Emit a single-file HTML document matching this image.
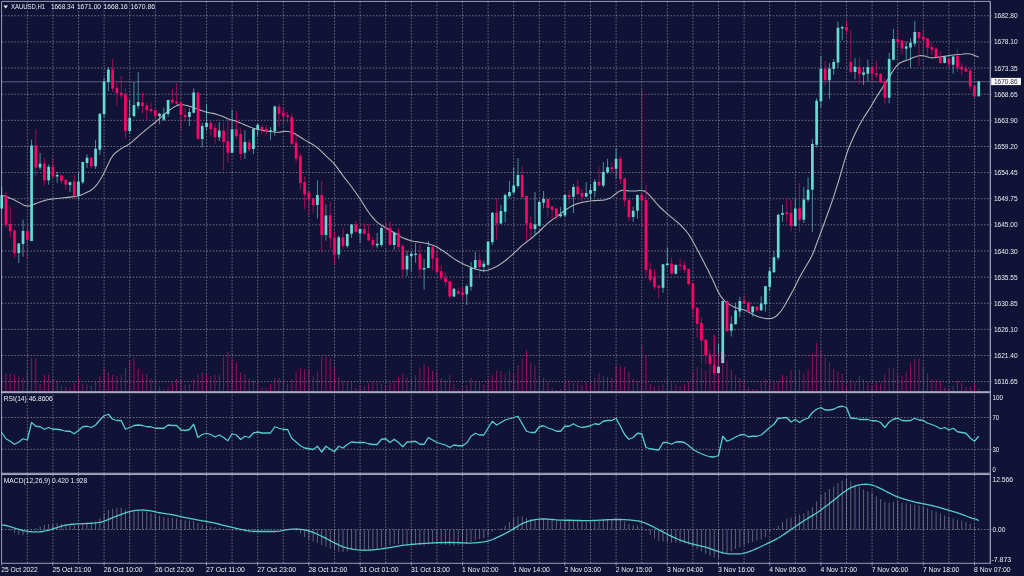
<!DOCTYPE html>
<html lang="en"><head><meta charset="utf-8"><title>XAUUSD,H1</title>
<style>html,body{margin:0;padding:0;background:#101236;overflow:hidden}body{width:1024px;height:576px}</style>
</head><body>
<svg width="1024" height="576" viewBox="0 0 1024 576" style="display:block;font-family:'Liberation Sans',sans-serif">
<rect width="1024" height="576" fill="#101236"/>
<path d="M27.30 1.4V563.3M52.90 1.4V563.3M78.50 1.4V563.3M104.10 1.4V563.3M129.70 1.4V563.3M155.30 1.4V563.3M180.90 1.4V563.3M206.50 1.4V563.3M232.10 1.4V563.3M257.70 1.4V563.3M283.30 1.4V563.3M308.90 1.4V563.3M334.50 1.4V563.3M360.10 1.4V563.3M385.70 1.4V563.3M411.30 1.4V563.3M436.90 1.4V563.3M462.50 1.4V563.3M488.10 1.4V563.3M513.70 1.4V563.3M539.30 1.4V563.3M564.90 1.4V563.3M590.50 1.4V563.3M616.10 1.4V563.3M641.70 1.4V563.3M667.30 1.4V563.3M692.90 1.4V563.3M718.50 1.4V563.3M744.10 1.4V563.3M769.70 1.4V563.3M795.30 1.4V563.3M820.90 1.4V563.3M846.50 1.4V563.3M872.10 1.4V563.3M897.70 1.4V563.3M923.30 1.4V563.3M948.90 1.4V563.3M974.50 1.4V563.3M1.6 15.80H991.6M1.6 41.93H991.6M1.6 68.06H991.6M1.6 94.19H991.6M1.6 120.32H991.6M1.6 146.45H991.6M1.6 172.58H991.6M1.6 198.71H991.6M1.6 224.84H991.6M1.6 250.97H991.6M1.6 277.10H991.6M1.6 303.23H991.6M1.6 329.36H991.6M1.6 355.49H991.6M1.6 381.62H991.6M1.6 417.5H991.6M1.6 449.3H991.6M1.6 529.5H991.6" stroke="#a9a9b4" stroke-width="0.66" stroke-dasharray="1.6 1.6" fill="none" opacity="0.9"/>
<path d="M1.70 377.50V391.2M5.97 373.25V391.2M10.23 373.75V391.2M14.50 374.25V391.2M18.77 376.25V391.2M23.03 377.50V391.2M27.30 370.00V391.2M31.57 358.00V391.2M35.83 358.00V391.2M40.10 383.75V391.2M44.37 375.00V391.2M48.63 374.25V391.2M52.90 379.50V391.2M57.17 380.50V391.2M61.43 385.50V391.2M65.70 386.75V391.2M69.97 387.50V391.2M74.23 382.50V391.2M78.50 378.00V391.2M82.77 383.75V391.2M87.03 384.25V391.2M91.30 385.75V391.2M95.57 381.25V391.2M99.83 376.25V391.2M104.10 368.75V391.2M108.37 371.75V391.2M112.63 375.00V391.2M116.90 376.25V391.2M121.17 375.00V391.2M125.43 368.00V391.2M129.70 360.50V391.2M133.97 357.50V391.2M138.23 368.75V391.2M142.50 373.75V391.2M146.77 374.25V391.2M151.03 378.75V391.2M155.30 381.25V391.2M159.57 386.25V391.2M163.83 389.25V391.2M168.10 387.50V391.2M172.37 381.25V391.2M176.63 378.75V391.2M180.90 380.00V391.2M185.17 384.50V391.2M189.43 383.75V391.2M193.70 378.75V391.2M197.97 374.25V391.2M202.23 372.00V391.2M206.50 373.75V391.2M210.77 376.25V391.2M215.03 375.00V391.2M219.30 374.50V391.2M223.57 357.00V391.2M227.83 352.00V391.2M232.10 358.75V391.2M236.37 363.00V391.2M240.63 372.50V391.2M244.90 374.25V391.2M249.17 378.75V391.2M253.43 380.00V391.2M257.70 382.00V391.2M261.97 387.50V391.2M266.23 388.00V391.2M270.50 383.75V391.2M274.77 378.00V391.2M279.03 378.00V391.2M283.30 382.00V391.2M287.57 383.75V391.2M291.83 379.25V391.2M296.10 372.00V391.2M300.37 368.25V391.2M304.63 369.50V391.2M308.90 369.25V391.2M313.17 375.75V391.2M317.43 371.25V391.2M321.70 356.75V391.2M325.97 357.00V391.2M330.23 358.00V391.2M334.50 368.25V391.2M338.77 377.00V391.2M343.03 381.25V391.2M347.30 381.25V391.2M351.57 381.25V391.2M355.83 388.00V391.2M360.10 385.00V391.2M364.37 386.75V391.2M368.63 383.00V391.2M372.90 381.25V391.2M377.17 382.50V391.2M381.43 383.75V391.2M385.70 385.00V391.2M389.97 382.50V391.2M394.23 381.25V391.2M398.50 377.50V391.2M402.77 373.00V391.2M407.03 377.00V391.2M411.30 378.00V391.2M415.57 375.00V391.2M419.83 367.50V391.2M424.10 363.75V391.2M428.37 366.25V391.2M432.63 370.50V391.2M436.90 371.75V391.2M441.17 378.00V391.2M445.43 379.50V391.2M449.70 375.00V391.2M453.97 384.25V391.2M458.23 388.75V391.2M462.50 387.50V391.2M466.77 385.00V391.2M471.03 378.00V391.2M475.30 381.25V391.2M479.57 381.25V391.2M483.83 384.25V391.2M488.10 380.00V391.2M492.37 374.50V391.2M496.63 370.75V391.2M500.90 370.75V391.2M505.17 374.50V391.2M509.43 370.75V391.2M513.70 372.50V391.2M517.97 365.00V391.2M522.23 358.75V391.2M526.50 350.00V391.2M530.77 362.50V391.2M535.03 365.00V391.2M539.30 375.75V391.2M543.57 378.00V391.2M547.83 381.25V391.2M552.10 388.00V391.2M556.37 390.00V391.2M560.63 389.25V391.2M564.90 382.00V391.2M569.17 380.00V391.2M573.43 383.00V391.2M577.70 382.50V391.2M581.97 385.00V391.2M586.23 382.00V391.2M590.50 382.50V391.2M594.77 378.00V391.2M599.03 373.00V391.2M603.30 375.75V391.2M607.57 377.00V391.2M611.83 377.50V391.2M616.10 365.75V391.2M620.37 366.25V391.2M624.63 367.00V391.2M628.90 372.00V391.2M633.17 378.75V391.2M637.43 381.25V391.2M641.70 345.50V391.2M645.97 355.50V391.2M650.23 384.25V391.2M654.50 387.00V391.2M658.77 385.75V391.2M663.03 384.50V391.2M667.30 377.50V391.2M671.57 383.00V391.2M675.83 384.50V391.2M680.10 386.25V391.2M684.37 384.50V391.2M688.63 381.25V391.2M692.90 372.00V391.2M697.17 367.00V391.2M701.43 367.50V391.2M705.70 370.50V391.2M709.97 365.00V391.2M714.23 334.50V391.2M718.50 354.00V391.2M722.77 351.75V391.2M727.03 360.50V391.2M731.30 369.75V391.2M735.57 375.25V391.2M739.83 378.00V391.2M744.10 380.75V391.2M748.37 386.75V391.2M752.63 389.00V391.2M756.90 389.25V391.2M761.17 383.00V391.2M765.43 379.00V391.2M769.70 382.00V391.2M773.97 382.50V391.2M778.23 381.25V391.2M782.50 375.00V391.2M786.77 376.25V391.2M791.03 370.50V391.2M795.30 370.50V391.2M799.57 369.50V391.2M803.83 373.25V391.2M808.10 369.25V391.2M812.37 353.75V391.2M816.63 342.50V391.2M820.90 350.00V391.2M825.17 357.50V391.2M829.43 362.00V391.2M833.70 368.75V391.2M837.97 371.75V391.2M842.23 373.75V391.2M846.50 385.75V391.2M850.77 380.00V391.2M855.03 382.00V391.2M859.30 375.75V391.2M863.57 379.50V391.2M867.83 381.75V391.2M872.10 385.00V391.2M876.37 381.25V391.2M880.63 383.00V391.2M884.90 374.50V391.2M889.17 368.25V391.2M893.43 367.50V391.2M897.70 374.50V391.2M901.97 375.75V391.2M906.23 372.50V391.2M910.50 363.00V391.2M914.77 358.75V391.2M919.03 358.25V391.2M923.30 367.00V391.2M927.57 373.25V391.2M931.83 378.75V391.2M936.10 379.25V391.2M940.37 380.00V391.2M944.63 387.50V391.2M948.90 388.00V391.2M953.17 385.75V391.2M957.43 380.75V391.2M961.70 383.00V391.2M965.97 387.00V391.2M970.23 386.25V391.2M974.50 383.75V391.2M978.77 388.25V391.2" stroke="#c6146b" stroke-width="0.7" fill="none"/>
<path d="M1.6 81.8H990.4" stroke="#7e809e" stroke-width="0.7" fill="none"/>
<polyline points="1.70,195.46 3.83,195.77 5.97,196.40 8.10,197.19 10.23,198.14 12.37,199.10 14.50,200.12 16.63,201.22 18.77,202.39 20.90,203.55 23.03,204.63 25.17,205.64 27.30,206.04 29.43,205.90 31.57,205.18 33.70,204.39 35.83,203.56 37.97,202.73 40.10,201.97 42.23,201.27 44.37,200.65 46.50,200.02 48.63,199.53 50.77,199.17 52.90,198.95 55.03,198.73 57.17,198.50 59.30,198.28 61.43,198.05 63.57,197.82 65.70,197.58 67.83,197.34 69.97,197.10 72.10,196.85 74.23,196.57 76.37,196.26 78.50,195.78 80.63,195.15 82.77,194.29 84.90,193.34 87.03,192.31 89.17,191.28 91.30,189.97 93.43,188.39 95.57,186.15 97.70,183.54 99.83,180.30 101.97,176.81 104.10,172.74 106.23,168.29 108.37,163.70 110.50,159.30 112.63,155.95 114.76,153.44 116.90,151.78 119.03,150.14 121.16,148.67 123.30,147.37 125.43,146.25 127.56,145.14 129.70,143.76 131.83,142.12 133.96,140.20 136.10,138.27 138.23,136.35 140.36,134.43 142.50,132.58 144.63,130.80 146.76,129.10 148.90,127.39 151.03,125.69 153.16,123.99 155.30,122.23 157.43,120.42 159.56,118.56 161.70,116.69 163.83,114.82 165.96,112.96 168.10,111.22 170.23,109.63 172.36,108.17 174.50,106.73 176.63,105.63 178.76,104.86 180.90,104.69 183.03,104.80 185.16,105.19 187.30,105.60 189.43,106.16 191.56,106.86 193.70,107.70 195.83,108.54 197.96,109.35 200.10,110.11 202.23,110.84 204.36,111.55 206.50,112.15 208.63,112.64 210.76,113.01 212.90,113.38 215.03,113.87 217.16,114.48 219.30,115.19 221.43,115.91 223.56,116.75 225.70,117.72 227.83,118.65 229.96,119.42 232.10,120.02 234.23,120.63 236.36,121.35 238.50,122.18 240.63,123.12 242.76,124.06 244.90,124.97 247.03,125.84 249.16,126.69 251.30,127.53 253.43,128.25 255.56,128.85 257.70,129.32 259.83,129.79 261.96,130.21 264.10,130.59 266.23,130.92 268.36,131.25 270.50,131.55 272.63,131.82 274.76,132.05 276.90,132.27 279.03,132.20 281.16,131.85 283.30,131.47 285.43,131.38 287.56,131.55 289.70,131.74 291.83,132.29 293.96,133.20 296.10,134.50 298.23,135.83 300.36,137.21 302.50,138.58 304.63,139.90 306.76,141.15 308.90,142.35 311.03,143.54 313.16,144.80 315.30,146.13 317.43,147.76 319.56,149.61 321.69,151.70 323.83,153.78 325.96,155.83 328.09,157.85 330.23,159.83 332.36,161.81 334.49,164.14 336.63,166.82 338.76,169.85 340.89,172.87 343.03,175.79 345.16,178.59 347.29,181.28 349.43,183.97 351.56,186.77 353.69,189.70 355.83,192.75 357.96,195.80 360.09,198.97 362.23,202.27 364.36,205.69 366.49,209.11 368.63,212.23 370.76,215.04 372.89,217.55 375.03,220.05 377.16,222.15 379.29,223.84 381.43,225.14 383.56,226.44 385.69,227.73 387.83,229.00 389.96,230.25 392.09,231.50 394.23,232.77 396.36,234.04 398.49,235.33 400.63,236.62 402.76,237.72 404.89,238.64 407.03,239.38 409.16,240.12 411.29,240.73 413.43,241.21 415.56,241.54 417.69,241.87 419.83,242.22 421.96,242.58 424.09,242.95 426.23,243.32 428.36,243.83 430.49,244.49 432.63,245.29 434.76,246.09 436.89,247.09 439.03,248.29 441.16,249.67 443.29,251.06 445.43,252.51 447.56,254.02 449.69,255.59 451.83,257.17 453.96,258.63 456.09,259.97 458.23,261.21 460.36,262.45 462.49,263.60 464.63,264.65 466.76,265.61 468.89,266.56 471.03,267.42 473.16,268.20 475.29,268.90 477.43,269.59 479.56,270.16 481.69,270.59 483.83,270.69 485.96,270.58 488.09,270.07 490.23,269.35 492.36,268.45 494.49,267.54 496.63,266.46 498.76,265.20 500.89,263.76 503.03,262.30 505.16,260.72 507.29,259.00 509.43,257.15 511.56,255.30 513.69,253.38 515.83,251.38 517.96,249.31 520.09,247.24 522.23,245.32 524.36,243.57 526.49,241.98 528.63,240.41 530.76,238.73 532.89,236.97 535.03,235.10 537.16,233.23 539.29,231.28 541.42,229.26 543.56,227.17 545.69,225.07 547.82,223.17 549.96,221.45 552.09,219.92 554.22,218.39 556.36,216.82 558.49,215.22 560.62,213.58 562.76,211.94 564.89,210.41 567.02,208.98 569.16,207.65 571.29,206.32 573.42,205.21 575.56,204.31 577.69,203.63 579.82,202.95 581.96,202.38 584.09,201.92 586.22,201.59 588.36,201.25 590.49,200.98 592.62,200.78 594.76,200.65 596.89,200.53 599.02,200.40 601.16,200.27 603.29,200.14 605.42,199.76 607.56,199.09 609.69,198.15 611.82,196.88 613.96,195.29 616.09,193.54 618.22,191.91 620.36,190.86 622.49,190.31 624.62,190.38 626.76,190.63 628.89,190.87 631.02,191.00 633.16,191.00 635.29,191.00 637.42,190.83 639.56,190.51 641.69,190.45 643.82,190.84 645.96,192.08 648.09,193.76 650.22,196.02 652.36,198.42 654.49,200.97 656.62,203.51 658.76,205.86 660.89,208.01 663.02,209.98 665.16,211.94 667.29,213.84 669.42,215.67 671.56,217.43 673.69,219.19 675.82,220.95 677.96,222.72 680.09,224.68 682.22,226.82 684.36,229.14 686.49,231.46 688.62,234.28 690.76,237.60 692.89,241.41 695.02,245.23 697.16,249.15 699.29,253.18 701.42,257.32 703.56,261.45 705.69,265.63 707.82,269.87 709.96,274.16 712.09,278.47 714.22,283.09 716.36,287.98 718.49,292.40 720.62,296.06 722.76,298.71 724.89,301.06 727.02,302.85 729.16,304.37 731.29,305.55 733.42,306.63 735.56,307.48 737.69,308.18 739.82,308.72 741.96,309.23 744.09,309.90 746.22,310.79 748.36,311.94 750.49,313.14 752.62,314.29 754.75,315.33 756.89,316.16 759.02,316.92 761.15,317.51 763.29,318.04 765.42,318.37 767.55,318.59 769.69,318.56 771.82,318.38 773.95,317.56 776.09,316.24 778.22,314.23 780.35,311.99 782.49,309.03 784.62,305.53 786.75,301.64 788.89,297.89 791.02,294.14 793.15,290.27 795.29,286.09 797.42,281.74 799.55,277.52 801.69,273.59 803.82,269.94 805.95,266.30 808.09,262.71 810.22,259.04 812.35,254.67 814.49,249.55 816.62,243.80 818.75,238.05 820.89,232.28 823.02,226.47 825.15,220.64 827.29,214.80 829.42,208.96 831.55,202.90 833.69,196.60 835.82,189.92 837.95,183.06 840.09,175.99 842.22,168.68 844.35,161.18 846.49,154.31 848.62,148.28 850.75,143.23 852.89,138.41 855.02,133.79 857.15,129.43 859.29,125.31 861.42,121.50 863.55,117.93 865.69,114.60 867.82,111.38 869.95,108.02 872.09,104.51 874.22,100.85 876.35,97.30 878.49,93.89 880.62,90.62 882.75,87.40 884.89,84.10 887.02,80.71 889.15,77.19 891.29,73.61 893.42,70.26 895.55,67.20 897.69,64.88 899.82,63.02 901.95,61.92 904.09,61.12 906.22,60.48 908.35,59.71 910.49,58.79 912.62,57.85 914.75,57.00 916.89,56.25 919.02,55.82 921.15,55.60 923.29,55.81 925.42,56.25 927.55,56.91 929.69,57.56 931.82,57.85 933.95,57.80 936.09,57.45 938.22,57.15 940.35,56.89 942.49,56.60 944.62,56.28 946.75,55.95 948.89,55.62 951.02,55.30 953.15,55.04 955.29,54.81 957.42,54.64 959.55,54.50 961.69,54.31 963.82,54.05 965.95,53.82 968.08,53.70 970.22,53.97 972.35,54.53 974.48,55.40 976.62,56.34 978.75,57.00" fill="none" stroke="#b2b2b6" stroke-width="1.1" stroke-linejoin="round"/>
<path d="M1.70 186.90V209.40M18.77 243.00V262.80M23.03 219.70V256.80M31.57 139.60V241.30M40.10 153.00V170.00M48.63 164.40V184.60M57.17 171.90V183.00M69.97 181.60V192.00M78.50 172.80V199.60M82.77 161.60V184.00M87.03 154.40V168.00M95.57 140.00V169.00M99.83 113.20V155.00M104.10 78.00V117.50M108.37 67.00V91.00M129.70 100.00V133.40M133.97 82.00V117.50M138.23 72.00V109.00M159.57 112.80V124.40M163.83 107.75V121.00M168.10 99.70V117.00M189.43 107.90V126.00M193.70 88.40V113.40M202.23 122.75V147.50M206.50 104.00V130.25M219.30 122.20V141.00M232.10 110.00V153.10M244.90 130.25V158.75M253.43 128.40V154.00M257.70 123.00V136.25M270.50 126.90V140.00M274.77 105.30V135.70M317.43 180.40V218.40M325.97 204.40V240.60M338.77 235.30V258.75M347.30 233.40V248.40M351.57 224.00V237.75M360.10 228.40V242.80M377.17 232.80V248.40M381.43 226.25V246.90M394.23 231.90V249.70M407.03 250.60V276.00M411.30 251.60V271.25M415.57 243.10V262.80M424.10 259.00V289.60M428.37 240.90V268.40M453.97 288.10V297.10M466.77 284.40V305.00M471.03 261.90V290.60M475.30 251.90V270.30M483.83 260.40V272.20M488.10 241.25V266.00M492.37 212.20V245.00M500.90 204.70V224.00M505.17 193.40V222.50M509.43 180.90V198.10M513.70 167.20V193.40M517.97 158.20V187.80M535.03 192.10V235.40M539.30 200.90V226.25M543.57 191.00V208.40M560.63 207.10V217.80M564.90 194.40V216.90M573.43 184.00V213.10M586.23 182.20V197.20M590.50 184.00V200.00M594.77 179.00V197.20M603.30 162.10V187.25M607.57 158.75V173.75M616.10 147.90V178.40M633.17 206.60V221.80M637.43 194.40V218.75M663.03 263.75V292.80M667.30 247.25V265.60M675.83 264.30V274.40M718.50 343.30V373.40M722.77 300.40V363.40M731.30 316.25V336.50M735.57 303.00V324.70M739.83 296.60V317.20M752.63 305.90V316.60M761.17 296.10V311.00M765.43 285.70V311.60M769.70 267.10V291.00M773.97 251.00V272.75M778.23 213.90V260.40M782.50 204.70V221.80M795.30 198.60V226.25M803.83 186.90V223.00M808.10 177.50V201.90M812.37 139.00V232.30M816.63 98.20V147.50M820.90 55.90V107.60M829.43 63.00V99.00M833.70 59.00V74.70M837.97 21.60V68.10M842.23 25.60V40.40M855.03 57.80V79.40M863.57 67.20V85.00M867.83 59.70V81.25M889.17 52.75V103.40M893.43 28.75V60.60M906.23 41.90V60.60M910.50 38.10V67.75M914.77 20.90V46.60M944.63 55.90V63.40M953.17 55.60V73.75M978.77 80.90V96.60" stroke="#64dcd4" stroke-width="0.62" fill="none"/>
<path d="M5.97 192.00V228.00M10.23 206.50V237.30M14.50 229.00V258.00M27.30 224.50V258.50M35.83 129.00V176.60M44.37 157.80V186.00M52.90 158.20V178.40M61.43 174.70V184.00M65.70 179.40V189.70M74.23 174.70V199.00M91.30 156.30V168.00M112.63 59.00V92.00M116.90 83.00V105.70M121.17 76.00V99.00M125.43 88.00V138.50M142.50 92.00V113.75M146.77 102.50V120.00M151.03 102.50V113.75M155.30 109.60V121.80M172.37 89.40V104.40M176.63 82.80V104.40M180.90 102.10V129.70M185.17 108.00V120.60M197.97 92.20V139.60M210.77 121.60V136.25M215.03 124.00V143.75M223.57 122.20V170.60M227.83 120.30V162.50M236.37 111.00V139.00M240.63 128.40V159.70M249.17 139.00V151.80M261.97 125.00V134.75M266.23 125.00V134.40M279.03 103.40V126.90M283.30 107.75V125.00M287.57 111.90V122.75M291.83 113.40V145.25M296.10 134.40V162.50M300.37 154.00V189.75M304.63 176.25V209.60M308.90 190.30V216.60M313.17 197.80V212.80M321.70 181.00V252.20M330.23 201.60V248.40M334.50 231.60V264.40M343.03 227.80V249.00M355.83 220.90V232.90M364.37 223.20V234.40M368.63 224.20V241.25M372.90 236.60V249.10M385.70 222.00V232.00M389.97 221.60V245.60M398.50 228.10V249.70M402.77 244.00V276.90M419.83 244.40V276.90M432.63 246.00V270.30M436.90 250.60V272.75M441.17 264.70V280.60M445.43 272.20V285.90M449.70 280.60V298.40M458.23 287.20V294.70M462.50 287.20V299.40M479.57 253.40V277.25M496.63 198.10V239.70M522.23 165.90V198.10M526.50 195.30V241.25M530.77 216.50V238.40M547.83 198.50V216.90M552.10 206.00V217.80M556.37 207.90V220.25M569.17 190.25V203.75M577.70 180.00V195.30M581.97 189.10V201.00M599.03 166.80V186.50M611.83 162.10V173.40M620.37 155.90V184.00M624.63 177.50V206.60M628.90 199.40V221.00M641.70 88.75V227.20M645.97 185.00V276.90M650.23 262.80V282.50M654.50 269.00V290.00M658.77 285.30V298.40M671.57 257.20V274.40M680.10 258.70V270.30M684.37 261.00V273.10M688.63 268.40V286.25M692.90 283.00V317.20M697.17 307.25V337.80M701.43 317.20V364.00M705.70 339.10V364.60M709.97 350.50V364.90M714.23 334.60V373.40M727.03 300.30V331.80M744.10 294.90V304.00M748.37 301.25V312.50M756.90 305.90V311.60M786.77 198.10V222.70M791.03 200.50V231.00M799.57 183.10V231.90M825.17 61.00V85.90M846.50 20.30V34.40M850.77 29.70V73.75M859.30 57.25V84.00M872.10 66.25V81.25M876.37 60.25V77.90M880.63 72.80V83.10M884.90 78.40V104.60M897.70 29.70V47.50M901.97 40.00V54.60M919.03 31.60V65.90M923.30 29.70V54.00M927.57 37.75V55.90M931.83 42.80V55.00M936.10 47.10V57.25M940.37 51.60V63.40M948.90 57.80V67.20M957.43 49.40V71.90M961.70 62.50V75.25M965.97 64.75V71.90M970.23 68.10V90.25M974.50 85.00V97.20" stroke="#ff0566" stroke-width="0.62" fill="none"/>
<path d="M0.35 195.30h2.7V208.40h-2.7zM17.42 243.50h2.7V253.00h-2.7zM21.68 231.00h2.7V244.00h-2.7zM30.22 145.60h2.7V241.00h-2.7zM38.75 163.80h2.7V167.60h-2.7zM47.28 166.80h2.7V180.30h-2.7zM55.82 175.00h2.7V176.60h-2.7zM68.62 182.20h2.7V185.00h-2.7zM77.15 181.60h2.7V195.70h-2.7zM81.42 162.00h2.7V182.20h-2.7zM85.68 157.80h2.7V162.90h-2.7zM94.22 148.80h2.7V166.25h-2.7zM98.48 113.75h2.7V149.75h-2.7zM102.75 81.50h2.7V114.00h-2.7zM107.02 69.50h2.7V82.00h-2.7zM128.35 118.00h2.7V131.00h-2.7zM132.62 105.00h2.7V116.00h-2.7zM136.88 102.00h2.7V106.00h-2.7zM158.22 113.75h2.7V116.20h-2.7zM162.48 113.75h2.7V119.75h-2.7zM166.75 100.00h2.7V114.00h-2.7zM188.08 111.90h2.7V117.00h-2.7zM192.35 92.60h2.7V112.80h-2.7zM200.88 126.00h2.7V139.00h-2.7zM205.15 122.75h2.7V126.90h-2.7zM217.95 130.60h2.7V137.20h-2.7zM230.75 129.30h2.7V152.75h-2.7zM243.55 141.90h2.7V152.75h-2.7zM252.08 129.10h2.7V149.00h-2.7zM256.35 125.00h2.7V129.10h-2.7zM269.15 130.25h2.7V131.25h-2.7zM273.42 106.60h2.7V131.00h-2.7zM316.08 195.00h2.7V205.00h-2.7zM324.62 215.60h2.7V235.00h-2.7zM337.42 237.20h2.7V254.60h-2.7zM345.95 234.00h2.7V246.00h-2.7zM350.22 224.60h2.7V233.80h-2.7zM358.75 229.10h2.7V233.40h-2.7zM375.82 243.70h2.7V245.60h-2.7zM380.08 228.10h2.7V245.00h-2.7zM392.88 232.80h2.7V245.00h-2.7zM405.68 255.70h2.7V269.40h-2.7zM409.95 253.80h2.7V256.25h-2.7zM414.22 253.80h2.7V255.00h-2.7zM422.75 267.90h2.7V269.40h-2.7zM427.02 246.90h2.7V267.90h-2.7zM452.62 288.70h2.7V296.60h-2.7zM465.42 286.25h2.7V294.30h-2.7zM469.68 267.50h2.7V286.80h-2.7zM473.95 260.00h2.7V267.90h-2.7zM482.48 263.75h2.7V267.10h-2.7zM486.75 241.60h2.7V264.70h-2.7zM491.02 212.70h2.7V242.20h-2.7zM499.55 210.90h2.7V223.40h-2.7zM503.82 194.90h2.7V211.80h-2.7zM508.08 191.90h2.7V196.25h-2.7zM512.35 185.40h2.7V192.50h-2.7zM516.62 175.00h2.7V185.90h-2.7zM533.68 224.60h2.7V229.00h-2.7zM537.95 201.90h2.7V225.70h-2.7zM542.22 198.70h2.7V202.80h-2.7zM559.28 214.60h2.7V216.30h-2.7zM563.55 194.90h2.7V215.60h-2.7zM572.08 186.90h2.7V196.80h-2.7zM584.88 193.00h2.7V196.80h-2.7zM589.15 190.00h2.7V193.80h-2.7zM593.42 181.80h2.7V191.00h-2.7zM601.95 171.90h2.7V185.60h-2.7zM606.22 167.20h2.7V172.40h-2.7zM614.75 158.75h2.7V168.70h-2.7zM631.82 210.70h2.7V217.00h-2.7zM636.08 194.90h2.7V210.70h-2.7zM661.68 264.30h2.7V287.75h-2.7zM665.95 263.40h2.7V265.25h-2.7zM674.48 265.00h2.7V273.70h-2.7zM717.15 366.80h2.7V372.90h-2.7zM721.42 300.90h2.7V363.00h-2.7zM729.95 323.75h2.7V330.70h-2.7zM734.22 310.60h2.7V324.30h-2.7zM738.48 300.90h2.7V311.60h-2.7zM751.28 306.50h2.7V312.50h-2.7zM759.82 303.60h2.7V310.25h-2.7zM764.08 286.25h2.7V304.20h-2.7zM768.35 271.25h2.7V286.80h-2.7zM772.62 257.20h2.7V272.20h-2.7zM776.88 214.80h2.7V257.75h-2.7zM781.15 212.90h2.7V214.80h-2.7zM793.95 208.50h2.7V226.00h-2.7zM802.48 199.50h2.7V219.80h-2.7zM806.75 189.70h2.7V199.80h-2.7zM811.02 144.10h2.7V189.80h-2.7zM815.28 100.70h2.7V144.70h-2.7zM819.55 68.70h2.7V101.30h-2.7zM828.08 68.70h2.7V80.30h-2.7zM832.35 61.90h2.7V69.00h-2.7zM836.62 27.80h2.7V62.50h-2.7zM840.88 26.90h2.7V28.40h-2.7zM853.68 66.80h2.7V71.90h-2.7zM862.22 72.40h2.7V74.70h-2.7zM866.48 67.20h2.7V73.75h-2.7zM887.82 59.10h2.7V97.75h-2.7zM892.08 39.00h2.7V59.70h-2.7zM904.88 46.60h2.7V48.80h-2.7zM909.15 42.80h2.7V47.50h-2.7zM913.42 32.10h2.7V43.40h-2.7zM943.28 56.50h2.7V63.00h-2.7zM951.82 56.50h2.7V64.75h-2.7zM977.42 81.25h2.7V96.25h-2.7z" fill="#64dcd4"/>
<path d="M4.62 195.90h2.7V224.75h-2.7zM8.88 224.00h2.7V231.20h-2.7zM13.15 230.40h2.7V253.00h-2.7zM25.95 231.00h2.7V240.00h-2.7zM34.48 145.60h2.7V167.60h-2.7zM43.02 163.40h2.7V180.30h-2.7zM51.55 166.80h2.7V176.60h-2.7zM60.08 175.25h2.7V180.90h-2.7zM64.35 179.75h2.7V184.60h-2.7zM72.88 181.60h2.7V195.70h-2.7zM89.95 157.80h2.7V166.25h-2.7zM111.28 69.50h2.7V88.40h-2.7zM115.55 88.00h2.7V93.00h-2.7zM119.82 92.75h2.7V95.50h-2.7zM124.08 94.60h2.7V131.00h-2.7zM141.15 102.50h2.7V106.00h-2.7zM145.42 105.50h2.7V110.00h-2.7zM149.68 109.00h2.7V111.00h-2.7zM153.95 110.00h2.7V116.00h-2.7zM171.02 99.70h2.7V102.50h-2.7zM175.28 101.75h2.7V103.40h-2.7zM179.55 102.50h2.7V115.00h-2.7zM183.82 114.70h2.7V117.00h-2.7zM196.62 92.60h2.7V139.00h-2.7zM209.42 122.75h2.7V129.00h-2.7zM213.68 127.80h2.7V137.20h-2.7zM222.22 130.60h2.7V141.90h-2.7zM226.48 141.00h2.7V152.75h-2.7zM235.02 129.30h2.7V135.90h-2.7zM239.28 134.00h2.7V153.70h-2.7zM247.82 142.25h2.7V149.40h-2.7zM260.62 126.90h2.7V129.70h-2.7zM264.88 129.10h2.7V131.20h-2.7zM277.68 106.60h2.7V113.75h-2.7zM281.95 112.80h2.7V116.20h-2.7zM286.22 115.25h2.7V117.10h-2.7zM290.48 117.00h2.7V143.75h-2.7zM294.75 142.80h2.7V158.75h-2.7zM299.02 156.00h2.7V182.90h-2.7zM303.28 181.90h2.7V194.40h-2.7zM307.55 192.60h2.7V199.30h-2.7zM311.82 198.40h2.7V205.00h-2.7zM320.35 195.00h2.7V235.00h-2.7zM328.88 215.25h2.7V238.10h-2.7zM333.15 237.75h2.7V254.60h-2.7zM341.68 237.20h2.7V246.00h-2.7zM354.48 224.60h2.7V232.10h-2.7zM363.02 228.90h2.7V233.80h-2.7zM367.28 233.60h2.7V240.30h-2.7zM371.55 240.00h2.7V245.00h-2.7zM384.35 227.60h2.7V228.60h-2.7zM388.62 228.10h2.7V245.00h-2.7zM397.15 232.80h2.7V246.90h-2.7zM401.42 246.00h2.7V269.40h-2.7zM418.48 253.80h2.7V269.40h-2.7zM431.28 246.90h2.7V258.50h-2.7zM435.55 257.75h2.7V272.20h-2.7zM439.82 271.25h2.7V278.20h-2.7zM444.08 277.80h2.7V282.10h-2.7zM448.35 281.20h2.7V296.60h-2.7zM456.88 291.30h2.7V293.75h-2.7zM461.15 292.40h2.7V295.00h-2.7zM478.22 260.00h2.7V267.10h-2.7zM495.28 212.70h2.7V223.40h-2.7zM520.88 175.00h2.7V197.20h-2.7zM525.15 195.90h2.7V223.40h-2.7zM529.42 222.90h2.7V229.00h-2.7zM546.48 199.00h2.7V207.90h-2.7zM550.75 206.60h2.7V209.75h-2.7zM555.02 208.40h2.7V216.30h-2.7zM567.82 194.90h2.7V197.20h-2.7zM576.35 186.50h2.7V194.00h-2.7zM580.62 193.00h2.7V196.80h-2.7zM597.68 181.80h2.7V185.60h-2.7zM610.48 167.20h2.7V169.00h-2.7zM619.02 158.75h2.7V179.00h-2.7zM623.28 178.40h2.7V200.40h-2.7zM627.55 200.00h2.7V217.00h-2.7zM640.35 194.90h2.7V200.60h-2.7zM644.62 200.00h2.7V270.00h-2.7zM648.88 269.40h2.7V279.70h-2.7zM653.15 276.50h2.7V286.80h-2.7zM657.42 285.70h2.7V287.75h-2.7zM670.22 263.40h2.7V273.70h-2.7zM678.75 264.70h2.7V266.00h-2.7zM683.02 265.00h2.7V269.75h-2.7zM687.28 269.00h2.7V284.00h-2.7zM691.55 283.60h2.7V308.40h-2.7zM695.82 307.80h2.7V323.75h-2.7zM700.08 322.80h2.7V340.60h-2.7zM704.35 339.70h2.7V355.00h-2.7zM708.62 354.50h2.7V364.00h-2.7zM712.88 364.80h2.7V372.90h-2.7zM725.68 300.90h2.7V331.25h-2.7zM742.75 301.10h2.7V303.50h-2.7zM747.02 302.20h2.7V311.90h-2.7zM755.55 306.50h2.7V310.60h-2.7zM785.42 212.20h2.7V213.90h-2.7zM789.68 212.80h2.7V226.00h-2.7zM798.22 208.50h2.7V219.80h-2.7zM823.82 68.70h2.7V80.30h-2.7zM845.15 26.90h2.7V30.25h-2.7zM849.42 62.10h2.7V71.90h-2.7zM857.95 66.80h2.7V74.10h-2.7zM870.75 67.20h2.7V73.75h-2.7zM875.02 73.20h2.7V75.00h-2.7zM879.28 74.10h2.7V82.20h-2.7zM883.55 81.25h2.7V97.75h-2.7zM896.35 39.00h2.7V41.90h-2.7zM900.62 40.40h2.7V48.40h-2.7zM917.68 32.10h2.7V38.10h-2.7zM921.95 36.80h2.7V39.60h-2.7zM926.22 38.50h2.7V47.50h-2.7zM930.48 46.90h2.7V49.75h-2.7zM934.75 48.80h2.7V56.90h-2.7zM939.02 56.50h2.7V63.00h-2.7zM947.55 58.40h2.7V64.40h-2.7zM956.08 55.90h2.7V67.75h-2.7zM960.35 66.80h2.7V69.40h-2.7zM964.62 68.70h2.7V71.50h-2.7zM968.88 70.60h2.7V86.50h-2.7zM973.15 85.60h2.7V96.60h-2.7z" fill="#ff0566"/>
<rect x="717.15" y="366.8" width="2.7" height="6.1" fill="#aeb4cc"/>
<rect x="721.42" y="351.8" width="2.7" height="11.2" fill="#aeb4cc"/>
<path d="M718.50 354V366.8" stroke="#c6146b" stroke-width="0.62"/>
<polyline points="1.70,432.50 5.97,438.75 10.23,441.25 14.50,444.25 18.77,442.00 23.03,438.75 27.30,440.00 31.57,422.50 35.83,426.25 40.10,426.75 44.37,429.25 48.63,427.50 52.90,429.25 57.17,429.25 61.43,430.00 65.70,431.25 69.97,431.25 74.23,433.75 78.50,430.50 82.77,426.75 87.03,426.25 91.30,427.50 95.57,425.00 99.83,420.00 104.10,415.75 108.37,414.25 112.63,419.25 116.90,420.50 121.17,420.50 125.43,429.25 129.70,427.50 133.97,425.50 138.23,425.00 142.50,425.50 146.77,426.75 151.03,426.75 155.30,428.25 159.57,428.25 163.83,428.25 168.10,425.00 172.37,425.50 176.63,425.50 180.90,430.00 185.17,430.50 189.43,429.50 193.70,424.25 197.97,437.50 202.23,434.50 206.50,433.25 210.77,434.50 215.03,437.00 219.30,435.00 223.57,437.50 227.83,440.75 232.10,433.75 236.37,435.00 240.63,439.50 244.90,436.25 249.17,437.50 253.43,433.00 257.70,432.00 261.97,433.00 266.23,433.00 270.50,433.00 274.77,426.75 279.03,428.25 283.30,429.50 287.57,429.50 291.83,438.25 296.10,442.00 300.37,445.75 304.63,448.00 308.90,448.75 313.17,449.50 317.43,446.25 321.70,452.00 325.97,446.25 330.23,449.25 334.50,451.75 338.77,446.25 343.03,448.00 347.30,444.50 351.57,442.00 355.83,442.50 360.10,442.50 364.37,442.50 368.63,443.75 372.90,444.50 377.17,444.50 381.43,439.25 385.70,438.75 389.97,442.50 394.23,439.25 398.50,442.50 402.77,446.75 407.03,442.00 411.30,441.75 415.57,441.25 419.83,444.25 424.10,444.25 428.37,437.50 432.63,440.00 436.90,442.50 441.17,443.75 445.43,445.00 449.70,447.50 453.97,445.00 458.23,445.75 462.50,445.75 466.77,443.00 471.03,436.25 475.30,433.25 479.57,435.00 483.83,435.00 488.10,428.00 492.37,421.25 496.63,425.00 500.90,422.50 505.17,420.00 509.43,418.75 513.70,417.50 517.97,416.25 522.23,423.75 526.50,431.25 530.77,432.50 535.03,432.50 539.30,426.75 543.57,425.75 547.83,428.00 552.10,429.25 556.37,431.25 560.63,431.25 564.90,426.25 569.17,426.25 573.43,423.75 577.70,426.25 581.97,427.50 586.23,426.75 590.50,425.75 594.77,423.75 599.03,424.50 603.30,421.25 607.57,420.50 611.83,420.50 616.10,418.25 620.37,426.25 624.63,434.50 628.90,439.25 633.17,437.50 637.43,433.25 641.70,433.75 645.97,447.50 650.23,448.75 654.50,449.50 658.77,450.00 663.03,442.50 667.30,442.50 671.57,444.25 675.83,442.00 680.10,441.75 684.37,442.50 688.63,445.50 692.90,449.25 697.17,451.75 701.43,453.75 705.70,455.50 709.97,456.75 714.23,457.00 718.50,455.50 722.77,436.25 727.03,441.25 731.30,439.50 735.57,437.00 739.83,435.00 744.10,434.50 748.37,436.75 752.63,436.25 756.90,436.25 761.17,435.00 765.43,431.25 769.70,427.50 773.97,424.25 778.23,418.25 782.50,418.00 786.77,417.50 791.03,422.00 795.30,419.50 799.57,422.50 803.83,419.50 808.10,418.25 812.37,412.50 816.63,409.25 820.90,407.50 825.17,410.00 829.43,410.00 833.70,409.25 837.97,407.00 842.23,406.25 846.50,407.50 850.77,418.25 855.03,418.25 859.30,419.50 863.57,419.50 867.83,419.50 872.10,420.75 876.37,420.75 880.63,422.50 884.90,427.50 889.17,422.00 893.43,419.25 897.70,418.25 901.97,420.50 906.23,420.75 910.50,420.50 914.77,418.25 919.03,420.00 923.30,420.50 927.57,423.25 931.83,424.50 936.10,426.25 940.37,428.75 944.63,427.50 948.90,430.00 953.17,428.25 957.43,431.75 961.70,432.50 965.97,433.25 970.23,438.00 974.50,441.25 978.77,436.25" fill="none" stroke="#54cdc9" stroke-width="1.3" stroke-linejoin="round"/>
<path d="M1.70 529.5V529.00M5.97 529.5V530.00M10.23 529.5V530.75M14.50 529.5V532.75M18.77 529.5V534.50M23.03 529.5V535.00M27.30 529.5V534.50M31.57 529.5V530.25M35.83 529.5V528.25M40.10 529.5V526.50M44.37 529.5V525.00M48.63 529.5V524.00M52.90 529.5V523.75M57.17 529.5V523.25M61.43 529.5V523.75M65.70 529.5V524.00M69.97 529.5V524.50M74.23 529.5V525.00M78.50 529.5V525.00M82.77 529.5V524.00M87.03 529.5V523.25M91.30 529.5V522.75M95.57 529.5V521.50M99.83 529.5V518.25M104.10 529.5V513.25M108.37 529.5V510.00M112.63 529.5V508.75M116.90 529.5V507.75M121.17 529.5V507.75M125.43 529.5V509.50M129.70 529.5V510.75M133.97 529.5V510.75M138.23 529.5V510.75M142.50 529.5V511.25M146.77 529.5V512.00M151.03 529.5V513.25M155.30 529.5V514.50M159.57 529.5V515.75M163.83 529.5V517.00M168.10 529.5V517.75M172.37 529.5V517.75M176.63 529.5V518.25M180.90 529.5V519.50M185.17 529.5V520.25M189.43 529.5V520.75M193.70 529.5V520.75M197.97 529.5V523.25M202.23 529.5V524.50M206.50 529.5V525.25M210.77 529.5V526.25M215.03 529.5V527.00M219.30 529.5V527.75M223.57 529.5V529.00M227.83 529.5V530.25M232.10 529.5V530.00M236.37 529.5V530.75M240.63 529.5V531.25M244.90 529.5V532.00M249.17 529.5V532.50M253.43 529.5V532.75M257.70 529.5V531.50M261.97 529.5V530.75M266.23 529.5V530.25M270.50 529.5V530.00M279.03 529.5V529.00M283.30 529.5V529.00M287.57 529.5V529.00M296.10 529.5V530.75M300.37 529.5V533.25M304.63 529.5V537.00M308.90 529.5V540.00M313.17 529.5V541.50M317.43 529.5V542.75M321.70 529.5V545.00M325.97 529.5V546.50M330.23 529.5V548.25M334.50 529.5V550.25M338.77 529.5V551.50M343.03 529.5V552.00M347.30 529.5V551.50M351.57 529.5V550.00M355.83 529.5V549.50M360.10 529.5V549.00M364.37 529.5V549.00M368.63 529.5V549.50M372.90 529.5V549.50M377.17 529.5V549.00M381.43 529.5V547.00M385.70 529.5V545.75M389.97 529.5V545.25M394.23 529.5V544.50M398.50 529.5V544.00M402.77 529.5V545.00M407.03 529.5V545.25M411.30 529.5V545.00M415.57 529.5V544.50M419.83 529.5V545.00M424.10 529.5V545.75M428.37 529.5V544.50M432.63 529.5V544.00M436.90 529.5V544.00M441.17 529.5V544.50M445.43 529.5V545.00M449.70 529.5V545.75M453.97 529.5V545.75M458.23 529.5V545.25M462.50 529.5V545.25M466.77 529.5V544.00M471.03 529.5V542.00M475.30 529.5V540.00M479.57 529.5V539.00M483.83 529.5V538.25M488.10 529.5V535.75M492.37 529.5V531.50M500.90 529.5V528.25M505.17 529.5V525.75M509.43 529.5V522.00M513.70 529.5V518.25M517.97 529.5V516.50M522.23 529.5V516.25M526.50 529.5V517.75M530.77 529.5V519.00M535.03 529.5V519.50M539.30 529.5V519.00M543.57 529.5V518.75M547.83 529.5V519.50M552.10 529.5V520.00M556.37 529.5V520.75M560.63 529.5V521.50M564.90 529.5V520.75M569.17 529.5V520.75M573.43 529.5V520.75M577.70 529.5V520.75M581.97 529.5V521.25M586.23 529.5V521.25M590.50 529.5V521.25M594.77 529.5V520.75M599.03 529.5V520.75M603.30 529.5V520.00M607.57 529.5V519.50M611.83 529.5V519.50M616.10 529.5V518.75M620.37 529.5V519.50M624.63 529.5V521.50M628.90 529.5V524.00M633.17 529.5V525.25M637.43 529.5V525.75M641.70 529.5V526.50M645.97 529.5V530.75M650.23 529.5V535.00M654.50 529.5V538.25M658.77 529.5V540.75M663.03 529.5V541.50M667.30 529.5V541.50M671.57 529.5V542.75M675.83 529.5V542.75M680.10 529.5V542.75M684.37 529.5V543.25M688.63 529.5V544.50M692.90 529.5V547.00M697.17 529.5V549.50M701.43 529.5V551.50M705.70 529.5V554.00M709.97 529.5V555.75M714.23 529.5V557.50M718.50 529.5V558.25M722.77 529.5V554.00M727.03 529.5V553.25M731.30 529.5V551.50M735.57 529.5V549.00M739.83 529.5V547.00M744.10 529.5V545.25M748.37 529.5V543.25M752.63 529.5V542.00M756.90 529.5V540.75M761.17 529.5V539.50M765.43 529.5V537.00M769.70 529.5V532.00M773.97 529.5V528.25M778.23 529.5V525.75M782.50 529.5V522.00M786.77 529.5V519.00M791.03 529.5V517.75M795.30 529.5V515.75M799.57 529.5V514.50M803.83 529.5V513.25M808.10 529.5V510.75M812.37 529.5V507.00M816.63 529.5V501.50M820.90 529.5V494.50M825.17 529.5V492.00M829.43 529.5V489.00M833.70 529.5V486.50M837.97 529.5V483.25M842.23 529.5V480.75M846.50 529.5V478.25M850.77 529.5V481.50M855.03 529.5V484.50M859.30 529.5V486.50M863.57 529.5V489.50M867.83 529.5V491.50M872.10 529.5V493.25M876.37 529.5V496.50M880.63 529.5V499.00M884.90 529.5V502.00M889.17 529.5V502.50M893.43 529.5V502.00M897.70 529.5V500.75M901.97 529.5V502.75M906.23 529.5V503.25M910.50 529.5V504.00M914.77 529.5V504.50M919.03 529.5V505.25M923.30 529.5V506.50M927.57 529.5V508.25M931.83 529.5V510.25M936.10 529.5V511.50M940.37 529.5V513.25M944.63 529.5V515.25M948.90 529.5V517.00M953.17 529.5V518.25M957.43 529.5V519.50M961.70 529.5V520.75M965.97 529.5V522.00M970.23 529.5V523.75M974.50 529.5V526.50M978.77 529.5V528.25" stroke="#9393a1" stroke-width="0.62" fill="none"/>
<polyline points="1.75,524.80 3.88,525.10 6.02,525.50 8.15,526.06 10.28,526.66 12.42,527.31 14.55,528.02 16.68,528.72 18.82,529.37 20.95,529.97 23.08,530.52 25.22,530.94 27.35,531.29 29.48,531.56 31.62,531.75 33.75,531.83 35.88,531.85 38.02,531.82 40.15,531.73 42.28,531.50 44.42,531.17 46.55,530.73 48.68,530.20 50.82,529.55 52.95,528.90 55.08,528.23 57.22,527.56 59.35,526.88 61.48,526.23 63.62,525.66 65.75,525.18 67.88,524.79 70.02,524.47 72.15,524.27 74.28,524.09 76.42,523.96 78.55,523.86 80.68,523.79 82.82,523.70 84.95,523.60 87.08,523.48 89.22,523.35 91.35,523.23 93.48,523.10 95.62,522.96 97.75,522.72 99.88,522.36 102.02,521.84 104.15,521.16 106.28,520.33 108.42,519.45 110.55,518.54 112.68,517.65 114.81,516.79 116.95,515.96 119.08,515.16 121.21,514.37 123.35,513.59 125.48,512.85 127.61,512.19 129.75,511.60 131.88,511.09 134.01,510.68 136.15,510.40 138.28,510.19 140.41,510.06 142.55,510.02 144.68,510.12 146.81,510.29 148.95,510.57 151.08,510.95 153.21,511.41 155.35,511.88 157.48,512.33 159.61,512.75 161.75,513.13 163.88,513.47 166.01,513.78 168.15,514.10 170.28,514.41 172.41,514.74 174.55,515.12 176.68,515.55 178.81,516.03 180.95,516.55 183.08,517.06 185.21,517.54 187.35,517.98 189.48,518.38 191.61,518.78 193.75,519.18 195.88,519.60 198.01,520.02 200.15,520.43 202.28,520.81 204.41,521.16 206.55,521.51 208.68,521.87 210.81,522.28 212.95,522.72 215.08,523.20 217.21,523.72 219.35,524.25 221.48,524.80 223.61,525.35 225.75,525.90 227.88,526.43 230.01,526.95 232.15,527.46 234.28,527.94 236.41,528.41 238.55,528.87 240.68,529.31 242.81,529.73 244.95,530.14 247.08,530.54 249.21,530.89 251.35,531.15 253.48,531.34 255.61,531.46 257.75,531.50 259.88,531.50 262.01,531.50 264.15,531.50 266.28,531.50 268.41,531.50 270.55,531.50 272.68,531.50 274.81,531.50 276.95,531.37 279.08,531.11 281.21,530.80 283.35,530.42 285.48,529.98 287.61,529.61 289.75,529.37 291.88,529.18 294.01,529.06 296.15,529.01 298.28,529.10 300.41,529.28 302.55,529.55 304.68,529.92 306.81,530.44 308.95,531.04 311.08,531.71 313.21,532.46 315.35,533.33 317.48,534.25 319.61,535.23 321.75,536.25 323.88,537.33 326.01,538.42 328.14,539.53 330.28,540.65 332.41,541.76 334.54,542.86 336.68,543.95 338.81,545.01 340.94,545.95 343.08,546.77 345.21,547.48 347.34,548.07 349.48,548.53 351.61,548.95 353.74,549.34 355.88,549.67 358.01,549.91 360.14,550.08 362.28,550.20 364.41,550.24 366.54,550.20 368.68,550.11 370.81,549.99 372.94,549.83 375.08,549.61 377.21,549.37 379.34,549.10 381.48,548.80 383.61,548.49 385.74,548.18 387.88,547.86 390.01,547.54 392.14,547.20 394.28,546.83 396.41,546.43 398.54,546.03 400.68,545.65 402.81,545.32 404.94,545.05 407.08,544.82 409.21,544.64 411.34,544.45 413.48,544.26 415.61,544.07 417.74,543.90 419.88,543.74 422.01,543.60 424.14,543.46 426.28,543.34 428.41,543.21 430.54,543.09 432.68,542.96 434.81,542.86 436.94,542.76 439.08,542.68 441.21,542.61 443.34,542.56 445.48,542.53 447.61,542.51 449.74,542.50 451.88,542.52 454.01,542.55 456.14,542.59 458.28,542.65 460.41,542.73 462.54,542.82 464.68,542.93 466.81,543.02 468.94,543.06 471.08,543.04 473.21,542.95 475.34,542.80 477.48,542.59 479.61,542.37 481.74,542.14 483.88,541.85 486.01,541.44 488.14,540.91 490.28,540.28 492.41,539.51 494.54,538.62 496.68,537.68 498.81,536.69 500.94,535.65 503.08,534.57 505.21,533.49 507.34,532.40 509.48,531.24 511.61,529.99 513.74,528.65 515.88,527.33 518.01,526.01 520.14,524.77 522.28,523.61 524.41,522.66 526.54,521.82 528.68,521.10 530.81,520.49 532.94,520.05 535.08,519.68 537.21,519.37 539.34,519.12 541.47,519.01 543.61,518.98 545.74,519.02 547.87,519.14 550.01,519.32 552.14,519.51 554.27,519.70 556.41,519.89 558.54,520.03 560.67,520.14 562.81,520.22 564.94,520.25 567.07,520.25 569.21,520.25 571.34,520.27 573.47,520.31 575.61,520.36 577.74,520.43 579.87,520.51 582.01,520.59 584.14,520.64 586.27,520.65 588.41,520.63 590.54,520.57 592.67,520.49 594.81,520.40 596.94,520.31 599.07,520.21 601.21,520.10 603.34,519.98 605.47,519.85 607.61,519.73 609.74,519.64 611.87,519.57 614.01,519.52 616.14,519.50 618.27,519.50 620.41,519.51 622.54,519.56 624.67,519.65 626.81,519.78 628.94,519.96 631.07,520.17 633.21,520.38 635.34,520.60 637.47,520.86 639.61,521.26 641.74,521.82 643.87,522.51 646.01,523.36 648.14,524.35 650.27,525.37 652.41,526.43 654.54,527.54 656.67,528.67 658.81,529.79 660.94,530.92 663.07,532.05 665.21,533.16 667.34,534.26 669.47,535.35 671.61,536.41 673.74,537.42 675.87,538.37 678.01,539.27 680.14,540.11 682.27,540.87 684.41,541.60 686.54,542.29 688.67,542.94 690.81,543.51 692.94,544.05 695.07,544.56 697.21,545.03 699.34,545.52 701.47,546.05 703.61,546.61 705.74,547.23 707.87,547.91 710.01,548.63 712.14,549.38 714.27,550.15 716.41,550.90 718.54,551.60 720.67,552.24 722.81,552.80 724.94,553.23 727.07,553.55 729.21,553.78 731.34,553.89 733.47,553.92 735.61,553.92 737.74,553.90 739.87,553.79 742.01,553.53 744.14,553.14 746.27,552.60 748.41,551.91 750.54,551.11 752.67,550.26 754.80,549.38 756.94,548.45 759.07,547.49 761.20,546.50 763.34,545.50 765.47,544.47 767.60,543.44 769.74,542.40 771.87,541.36 774.00,540.32 776.14,539.19 778.27,537.98 780.40,536.69 782.54,535.31 784.67,533.84 786.80,532.38 788.94,530.92 791.07,529.45 793.20,527.99 795.34,526.52 797.47,525.06 799.60,523.60 801.74,522.18 803.87,520.80 806.00,519.46 808.14,518.17 810.27,516.91 812.40,515.65 814.54,514.33 816.67,512.93 818.80,511.47 820.94,509.94 823.07,508.35 825.20,506.76 827.34,505.15 829.47,503.52 831.60,501.86 833.74,500.19 835.87,498.48 838.00,496.76 840.14,495.02 842.27,493.30 844.40,491.70 846.54,490.23 848.67,488.91 850.80,487.74 852.94,486.82 855.07,486.02 857.20,485.35 859.34,484.82 861.47,484.52 863.60,484.32 865.74,484.24 867.87,484.30 870.00,484.62 872.14,485.10 874.27,485.75 876.40,486.56 878.54,487.55 880.67,488.57 882.80,489.63 884.94,490.73 887.07,491.84 889.20,492.94 891.34,494.03 893.47,495.09 895.60,496.05 897.74,496.92 899.87,497.70 902.00,498.40 904.14,499.03 906.27,499.65 908.40,500.28 910.54,500.90 912.67,501.48 914.80,502.02 916.94,502.53 919.07,502.99 921.20,503.41 923.34,503.82 925.47,504.22 927.60,504.62 929.74,505.04 931.87,505.50 934.00,506.01 936.14,506.55 938.27,507.15 940.40,507.77 942.54,508.42 944.67,509.08 946.80,509.74 948.94,510.37 951.07,510.98 953.20,511.58 955.34,512.21 957.47,512.89 959.60,513.62 961.74,514.40 963.87,515.20 966.00,515.99 968.13,516.76 970.27,517.53 972.40,518.31 974.53,518.94 976.67,519.42 978.75,520.75" fill="none" stroke="#54cdc9" stroke-width="1.3" stroke-linejoin="round"/>
<rect x="1.2000000000000002" y="391.0" width="989.5999999999999" height="2.1000000000000227" fill="#8f90ab"/>
<rect x="1.2000000000000002" y="392.3" width="989.5999999999999" height="0.8" fill="#b4b5cb"/>
<rect x="1.2000000000000002" y="472.7" width="989.5999999999999" height="2.1000000000000227" fill="#8f90ab"/>
<rect x="1.2000000000000002" y="474.0" width="989.5999999999999" height="0.8" fill="#b4b5cb"/>
<rect x="989.55" y="1.4" width="0.65" height="561.9" fill="#6f7198"/>
<rect x="990.2" y="1.4" width="0.8" height="561.9" fill="#b4b6d0"/>
<path d="M1.6 563.3V1.4H990.4M1.6 563.3H991.0" fill="none" stroke="#c0c1d8" stroke-width="0.8"/>
<path d="M1.70 563.3v2.2M52.90 563.3v2.2M104.10 563.3v2.2M155.30 563.3v2.2M206.50 563.3v2.2M257.70 563.3v2.2M308.90 563.3v2.2M360.10 563.3v2.2M411.30 563.3v2.2M462.50 563.3v2.2M513.70 563.3v2.2M564.90 563.3v2.2M616.10 563.3v2.2M667.30 563.3v2.2M718.50 563.3v2.2M769.70 563.3v2.2M820.90 563.3v2.2M872.10 563.3v2.2M923.30 563.3v2.2M974.50 563.3v2.2" stroke="#c0c1d8" stroke-width="0.7"/>
<defs><filter id="tf" x="-2%" y="-2%" width="104%" height="104%"><feGaussianBlur stdDeviation="0.16"/></filter></defs>
<g filter="url(#tf)">
<path d="M3.4 5.5h4.6l-2.3 2.9z" fill="#f2f2f6"/>
<text x="11" y="9.25" font-size="7.1" fill="#ececf2" text-anchor="start" textLength="34.2" lengthAdjust="spacingAndGlyphs">XAUUSD,H1</text>
<text x="50.9" y="9.25" font-size="7.1" fill="#ececf2" text-anchor="start" textLength="23.4" lengthAdjust="spacingAndGlyphs">1668.34</text>
<text x="76.9" y="9.25" font-size="7.1" fill="#ececf2" text-anchor="start" textLength="24.2" lengthAdjust="spacingAndGlyphs">1671.00</text>
<text x="103.4" y="9.25" font-size="7.1" fill="#ececf2" text-anchor="start" textLength="24.4" lengthAdjust="spacingAndGlyphs">1668.16</text>
<text x="130.6" y="9.25" font-size="7.1" fill="#ececf2" text-anchor="start" textLength="24.4" lengthAdjust="spacingAndGlyphs">1670.86</text>
<text x="3.8" y="401.45" font-size="7.1" fill="#ececf2" text-anchor="start" textLength="49" lengthAdjust="spacingAndGlyphs">RSI(14) 46.8606</text>
<text x="3.8" y="483.25" font-size="7.1" fill="#ececf2" text-anchor="start" textLength="83.5" lengthAdjust="spacingAndGlyphs">MACD(12,26,9) 0.420 1.928</text>
<text x="993.9" y="18.35" font-size="7.1" fill="#ececf2" text-anchor="start" textLength="23.8" lengthAdjust="spacingAndGlyphs">1682.80</text>
<text x="993.9" y="44.48" font-size="7.1" fill="#ececf2" text-anchor="start" textLength="23.8" lengthAdjust="spacingAndGlyphs">1678.10</text>
<text x="993.9" y="70.61" font-size="7.1" fill="#ececf2" text-anchor="start" textLength="23.8" lengthAdjust="spacingAndGlyphs">1673.35</text>
<text x="993.9" y="96.74" font-size="7.1" fill="#ececf2" text-anchor="start" textLength="23.8" lengthAdjust="spacingAndGlyphs">1668.65</text>
<text x="993.9" y="122.87" font-size="7.1" fill="#ececf2" text-anchor="start" textLength="23.8" lengthAdjust="spacingAndGlyphs">1663.90</text>
<text x="993.9" y="149.0" font-size="7.1" fill="#ececf2" text-anchor="start" textLength="23.8" lengthAdjust="spacingAndGlyphs">1659.20</text>
<text x="993.9" y="175.13" font-size="7.1" fill="#ececf2" text-anchor="start" textLength="23.8" lengthAdjust="spacingAndGlyphs">1654.45</text>
<text x="993.9" y="201.26" font-size="7.1" fill="#ececf2" text-anchor="start" textLength="23.8" lengthAdjust="spacingAndGlyphs">1649.75</text>
<text x="993.9" y="227.39" font-size="7.1" fill="#ececf2" text-anchor="start" textLength="23.8" lengthAdjust="spacingAndGlyphs">1645.00</text>
<text x="993.9" y="253.52" font-size="7.1" fill="#ececf2" text-anchor="start" textLength="23.8" lengthAdjust="spacingAndGlyphs">1640.30</text>
<text x="993.9" y="279.65" font-size="7.1" fill="#ececf2" text-anchor="start" textLength="23.8" lengthAdjust="spacingAndGlyphs">1635.55</text>
<text x="993.9" y="305.78" font-size="7.1" fill="#ececf2" text-anchor="start" textLength="23.8" lengthAdjust="spacingAndGlyphs">1630.85</text>
<text x="993.9" y="331.91" font-size="7.1" fill="#ececf2" text-anchor="start" textLength="23.8" lengthAdjust="spacingAndGlyphs">1626.10</text>
<text x="993.9" y="358.04" font-size="7.1" fill="#ececf2" text-anchor="start" textLength="23.8" lengthAdjust="spacingAndGlyphs">1621.40</text>
<text x="993.9" y="384.17" font-size="7.1" fill="#ececf2" text-anchor="start" textLength="23.8" lengthAdjust="spacingAndGlyphs">1616.65</text>
<rect x="991.2" y="77.9" width="29.7" height="7.2" fill="#ffffff"/>
<text x="993.9" y="84.25" font-size="7.1" fill="#1b1c46" text-anchor="start" textLength="23.8" lengthAdjust="spacingAndGlyphs">1670.86</text>
<text x="992.5" y="400.05" font-size="7.1" fill="#ececf2" text-anchor="start" textLength="10.6" lengthAdjust="spacingAndGlyphs">100</text>
<text x="992.5" y="420.05" font-size="7.1" fill="#ececf2" text-anchor="start" textLength="6.6" lengthAdjust="spacingAndGlyphs">70</text>
<text x="992.5" y="451.95" font-size="7.1" fill="#ececf2" text-anchor="start" textLength="6.6" lengthAdjust="spacingAndGlyphs">30</text>
<text x="992.5" y="471.95" font-size="7.1" fill="#ececf2" text-anchor="start" textLength="3.3" lengthAdjust="spacingAndGlyphs">0</text>
<text x="992.5" y="482.05" font-size="7.1" fill="#ececf2" text-anchor="start" textLength="20.6" lengthAdjust="spacingAndGlyphs">12.566</text>
<text x="992.5" y="532.05" font-size="7.1" fill="#ececf2" text-anchor="start" textLength="12.8" lengthAdjust="spacingAndGlyphs">0.00</text>
<text x="991.4" y="562.05" font-size="7.1" fill="#ececf2" text-anchor="start" textLength="19.8" lengthAdjust="spacingAndGlyphs">-7.873</text>
<text x="1.3" y="572.35" font-size="7.1" fill="#ececf2" text-anchor="start" textLength="36.5" lengthAdjust="spacingAndGlyphs">25 Oct 2022</text>
<text x="52.5" y="572.35" font-size="7.1" fill="#ececf2" text-anchor="start" textLength="38.8" lengthAdjust="spacingAndGlyphs">25 Oct 21:00</text>
<text x="103.7" y="572.35" font-size="7.1" fill="#ececf2" text-anchor="start" textLength="38.8" lengthAdjust="spacingAndGlyphs">26 Oct 10:00</text>
<text x="154.9" y="572.35" font-size="7.1" fill="#ececf2" text-anchor="start" textLength="38.8" lengthAdjust="spacingAndGlyphs">26 Oct 22:00</text>
<text x="206.1" y="572.35" font-size="7.1" fill="#ececf2" text-anchor="start" textLength="38.8" lengthAdjust="spacingAndGlyphs">27 Oct 11:00</text>
<text x="257.3" y="572.35" font-size="7.1" fill="#ececf2" text-anchor="start" textLength="38.8" lengthAdjust="spacingAndGlyphs">27 Oct 23:00</text>
<text x="308.5" y="572.35" font-size="7.1" fill="#ececf2" text-anchor="start" textLength="38.8" lengthAdjust="spacingAndGlyphs">28 Oct 12:00</text>
<text x="359.7" y="572.35" font-size="7.1" fill="#ececf2" text-anchor="start" textLength="38.8" lengthAdjust="spacingAndGlyphs">31 Oct 01:00</text>
<text x="410.9" y="572.35" font-size="7.1" fill="#ececf2" text-anchor="start" textLength="38.8" lengthAdjust="spacingAndGlyphs">31 Oct 13:00</text>
<text x="462.1" y="572.35" font-size="7.1" fill="#ececf2" text-anchor="start" textLength="36.5" lengthAdjust="spacingAndGlyphs">1 Nov 02:00</text>
<text x="513.3" y="572.35" font-size="7.1" fill="#ececf2" text-anchor="start" textLength="36.5" lengthAdjust="spacingAndGlyphs">1 Nov 14:00</text>
<text x="564.5" y="572.35" font-size="7.1" fill="#ececf2" text-anchor="start" textLength="36.5" lengthAdjust="spacingAndGlyphs">2 Nov 03:00</text>
<text x="615.7" y="572.35" font-size="7.1" fill="#ececf2" text-anchor="start" textLength="36.5" lengthAdjust="spacingAndGlyphs">2 Nov 15:00</text>
<text x="666.9" y="572.35" font-size="7.1" fill="#ececf2" text-anchor="start" textLength="36.5" lengthAdjust="spacingAndGlyphs">3 Nov 04:00</text>
<text x="718.1" y="572.35" font-size="7.1" fill="#ececf2" text-anchor="start" textLength="36.5" lengthAdjust="spacingAndGlyphs">3 Nov 16:00</text>
<text x="769.3" y="572.35" font-size="7.1" fill="#ececf2" text-anchor="start" textLength="36.5" lengthAdjust="spacingAndGlyphs">4 Nov 05:00</text>
<text x="820.5" y="572.35" font-size="7.1" fill="#ececf2" text-anchor="start" textLength="36.5" lengthAdjust="spacingAndGlyphs">4 Nov 17:00</text>
<text x="871.7" y="572.35" font-size="7.1" fill="#ececf2" text-anchor="start" textLength="36.5" lengthAdjust="spacingAndGlyphs">7 Nov 06:00</text>
<text x="922.9" y="572.35" font-size="7.1" fill="#ececf2" text-anchor="start" textLength="36.5" lengthAdjust="spacingAndGlyphs">7 Nov 18:00</text>
<text x="974.1" y="572.35" font-size="7.1" fill="#ececf2" text-anchor="start" textLength="36.5" lengthAdjust="spacingAndGlyphs">8 Nov 07:00</text>
</g>
</svg>
</body></html>
